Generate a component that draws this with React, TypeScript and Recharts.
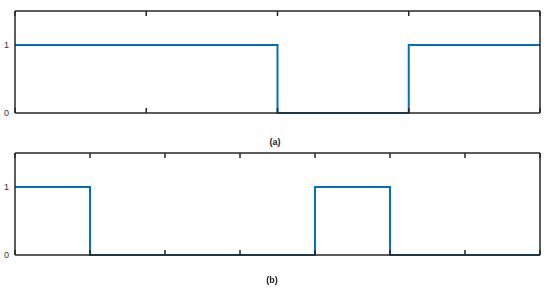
import { LineChart, Line, XAxis, YAxis } from 'recharts';

// (a) square wave: value holds from each x until the next x
const topX = [0, 2, 3, 4];
const topY = [1, 0, 1, 1];
const topTicks = [0, 1, 2, 3, 4];

// (b) square wave
const bottomX = [0, 1, 4, 5, 7];
const bottomY = [1, 0, 1, 0, 0];
const bottomTicks = [0, 1, 2, 3, 4, 5, 6, 7];

const yTicks = [0, 1];
const yDomain = [0, 1.5];

const FRAME = '#262626';
const BLUE = '#0072BD';

function InTick({ x, y, dir }: { x?: number; y?: number; dir: number }) {
    if (x == null || y == null) return null;
    return <line x1={x} x2={x} y1={y} y2={y + dir * 5} stroke={FRAME} strokeWidth={1.5} />;
}

function Panel({ xs, ys, ticks, maxX }: { xs: number[]; ys: number[]; ticks: number[]; maxX: number }) {
    const data = xs.map((x, i) => ({ x, v: ys[i] }));
    const axisLine = { stroke: FRAME, strokeWidth: 1.5 };
    return (
        <LineChart width={550} height={125} data={data} margin={{ top: 10, right: 9, bottom: 11, left: 0 }}>
            <XAxis
                dataKey="x"
                type="number"
                domain={[0, maxX]}
                ticks={ticks}
                interval={0}
                height={1}
                tickSize={0}
                tickMargin={0}
                axisLine={axisLine}
                tickLine={false}
                tick={(p: any) => <InTick x={p.x} y={p.y} dir={-1} />}
            />
            <XAxis
                xAxisId="top"
                orientation="top"
                dataKey="x"
                type="number"
                domain={[0, maxX]}
                ticks={ticks}
                interval={0}
                height={1}
                tickSize={0}
                tickMargin={0}
                axisLine={axisLine}
                tickLine={false}
                tick={(p: any) => <InTick x={p.x} y={p.y} dir={1} />}
            />
            <YAxis
                domain={yDomain}
                ticks={yTicks}
                width={15}
                tickSize={0}
                tickMargin={6}
                axisLine={axisLine}
                tickLine={false}
                tick={{ fill: '#333', fontSize: 9, fontFamily: 'Liberation Sans, Arial, sans-serif' }}
            />
            <YAxis
                yAxisId="right"
                orientation="right"
                domain={yDomain}
                width={1}
                axisLine={axisLine}
                tick={false}
                tickLine={false}
            />
            <Line
                type="stepAfter"
                dataKey="v"
                stroke={BLUE}
                strokeWidth={2}
                dot={false}
                isAnimationActive={false}
            />
        </LineChart>
    );
}

const labelStyle: React.CSSProperties = {
    position: 'absolute',
    width: 550,
    left: 0,
    textAlign: 'center',
    fontFamily: 'Liberation Sans, Arial, sans-serif',
    fontWeight: 'bold',
    fontSize: 9,
    color: '#222',
};

export default function App() {
    return (
        <div style={{ position: 'fixed', left: 0, top: 0, width: 550, height: 290, background: '#fff' }}>
            <div style={{ position: 'absolute', left: 0, top: 0 }}>
                <Panel xs={topX} ys={topY} ticks={topTicks} maxX={4} />
            </div>
            <div style={{ ...labelStyle, top: 137 }}>(a)</div>
            <div style={{ position: 'absolute', left: 0, top: 142 }}>
                <Panel xs={bottomX} ys={bottomY} ticks={bottomTicks} maxX={7} />
            </div>
            <div style={{ ...labelStyle, top: 275, left: -3 }}>(b)</div>
        </div>
    );
}
